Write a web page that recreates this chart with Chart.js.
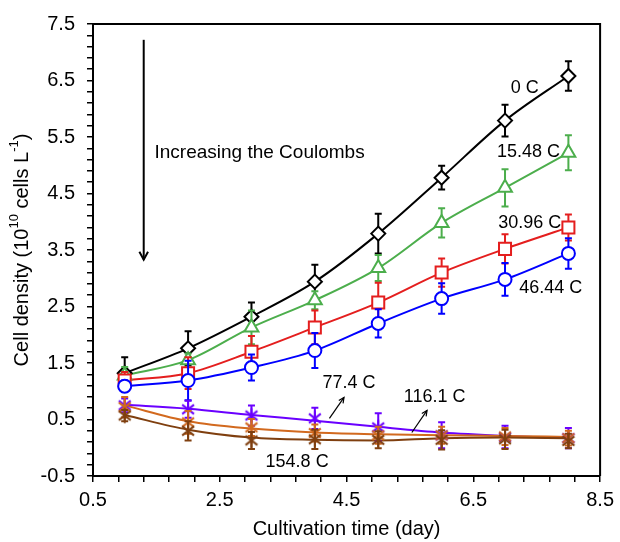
<!DOCTYPE html>
<html>
<head>
<meta charset="utf-8">
<script src="https://cdn.jsdelivr.net/npm/chart.js@4.4.1/dist/chart.umd.min.js"></script>
<style>
  html, body { margin: 0; padding: 0; background: #fff; }
  #wrap { width: 620px; height: 542px; }
</style>
</head>
<body>
<div id="wrap"><canvas id="cellChart" width="620" height="542"></canvas></div>
<script>
// Cultivation days (x) and cell density readings (10^10 cells/L) for each charge level
const days = [1, 2, 3, 4, 5, 6, 7, 8];

const mean0   = [1.32, 1.76, 2.32, 2.94, 3.79, 4.78, 5.79, 6.58];
const err0    = [0.28, 0.30, 0.25, 0.30, 0.35, 0.21, 0.28, 0.26];
const mean15  = [1.28, 1.55, 2.13, 2.61, 3.18, 3.98, 4.60, 5.22];
const err15   = [0.15, 0.12, 0.30, 0.16, 0.23, 0.26, 0.33, 0.31];
const mean31  = [1.19, 1.32, 1.70, 2.13, 2.57, 3.10, 3.52, 3.90];
const err31   = [0.15, 0.28, 0.28, 0.30, 0.35, 0.25, 0.26, 0.23];
const mean46  = [1.09, 1.19, 1.42, 1.72, 2.20, 2.64, 2.98, 3.44];
const err46   = [0.10, 0.35, 0.23, 0.31, 0.25, 0.27, 0.29, 0.27];
const mean77  = [0.75, 0.68, 0.57, 0.52, 0.36, 0.22, 0.19, 0.17];
const err77   = [0.12, 0.15, 0.18, 0.19, 0.25, 0.23, 0.20, 0.18];
const mean116 = [0.72, 0.45, 0.36, 0.26, 0.22, 0.22, 0.20, 0.17];
const err116  = [0.18, 0.20, 0.15, 0.15, 0.15, 0.15, 0.15, 0.13];
const mean155 = [0.57, 0.30, 0.13, 0.15, 0.14, 0.14, 0.15, 0.12];
const err155  = [0.10, 0.17, 0.15, 0.17, 0.15, 0.17, 0.17, 0.13];

// trend lines of the three high-charge series (they don't pass through the markers)
const fit77  = [0.76, 0.69, 0.58, 0.48, 0.37, 0.27, 0.21, 0.17];
const fit116 = [0.75, 0.47, 0.34, 0.27, 0.24, 0.22, 0.21, 0.19];
const fit155 = [0.58, 0.32, 0.18, 0.14, 0.13, 0.17, 0.18, 0.17];

const labels = ['0 C', '15.48 C', '30.96 C', '46.44 C', '77.4 C', '116.1 C', '154.8 C'];
const xTickLabels = [0.5, 2.5, 4.5, 6.5, 8.5];
const yTickLabels = [-0.5, 0.5, 1.5, 2.5, 3.5, 4.5, 5.5, 6.5, 7.5];

const FONT = '"Liberation Sans", Arial, sans-serif';

// 6-armed asterisk marker drawn once per colour
function asterisk(color) {
  const c = document.createElement('canvas');
  c.width = c.height = 18;
  const g = c.getContext('2d');
  g.strokeStyle = color;
  g.lineWidth = 2;
  g.beginPath();
  [90, 38, -38].forEach(a => {
    const r = 7.5, t = a * Math.PI / 180;
    g.moveTo(9 - r * Math.cos(t), 9 + r * Math.sin(t));
    g.lineTo(9 + r * Math.cos(t), 9 - r * Math.sin(t));
  });
  g.stroke();
  return c;
}

const series = [
  { mean: mean0,   err: err0,   fit: mean0,   color: '#000000', style: 'rectRot',  radius: 7 },
  { mean: mean15,  err: err15,  fit: mean15,  color: '#4CAE4C', style: 'triangle', radius: 8 },
  { mean: mean31,  err: err31,  fit: mean31,  color: '#E41E1E', style: 'rect',     radius: 8.5 },
  { mean: mean46,  err: err46,  fit: mean46,  color: '#0000FF', style: 'circle',   radius: 6.5 },
  { mean: mean77,  err: err77,  fit: fit77,   color: '#6A00FF', style: 'star',     radius: 8 },
  { mean: mean116, err: err116, fit: fit116,  color: '#D2691E', style: 'star',     radius: 8 },
  { mean: mean155, err: err155, fit: fit155,  color: '#7F3F0F', style: 'star',     radius: 8 },
];

const toPts = arr => days.map((d, i) => ({ x: d, y: arr[i] }));

const datasets = [];
series.forEach((s, k) => {
  datasets.push({
    label: labels[k] + ' fit',
    data: toPts(s.fit),
    showLine: true,
    borderColor: s.color,
    borderWidth: 2,
    pointRadius: 0,
    cubicInterpolationMode: 'monotone',
    order: 20 - k,
  });
  datasets.push({
    label: labels[k],
    data: toPts(s.mean),
    showLine: false,
    errors: s.err,
    borderColor: s.color,
    pointStyle: s.style === 'star' ? asterisk(s.color) : s.style,
    pointRadius: s.radius,
    pointBorderWidth: 2,
    pointBackgroundColor: '#fff',
    order: 10 - k,
  });
});

// text labels and arrows, anchored in data units
const curveNotes = [
  { text: '0 C',     x: 7.31, y: 6.37 },
  { text: '15.48 C', x: 7.37, y: 5.24 },
  { text: '30.96 C', x: 7.39, y: 3.98 },
  { text: '46.44 C', x: 7.72, y: 2.82 },
  { text: '77.4 C',  x: 4.54, y: 1.14 },
  { text: '116.1 C', x: 5.89, y: 0.89 },
  { text: '154.8 C', x: 3.72, y: -0.26 },
];
const smallArrows = [
  { x0: 4.23, y0: 0.52, x1: 4.46, y1: 0.89 },
  { x0: 5.53, y0: 0.27, x1: 5.77, y1: 0.66 },
];

function arrowHead(ctx, x0, y0, x1, y1, len, spread) {
  const a = Math.atan2(y1 - y0, x1 - x0);
  ctx.beginPath();
  ctx.moveTo(x1 - len * Math.cos(a - spread), y1 - len * Math.sin(a - spread));
  ctx.lineTo(x1, y1);
  ctx.lineTo(x1 - len * Math.cos(a + spread), y1 - len * Math.sin(a + spread));
  ctx.stroke();
}

const errorBars = {
  id: 'errorBars',
  beforeDatasetDraw(chart, args) {
    const ds = chart.data.datasets[args.index];
    if (!ds.errors) return;
    const { ctx } = chart;
    const y = chart.scales.y;
    ctx.save();
    ctx.strokeStyle = ds.borderColor;
    ctx.lineWidth = 2;
    args.meta.data.forEach((pt, i) => {
      const v = ds.data[i].y;
      const top = y.getPixelForValue(v + ds.errors[i]);
      const bot = y.getPixelForValue(v - ds.errors[i]);
      ctx.beginPath();
      ctx.moveTo(pt.x, top); ctx.lineTo(pt.x, bot);
      ctx.moveTo(pt.x - 3.5, top); ctx.lineTo(pt.x + 3.5, top);
      ctx.moveTo(pt.x - 3.5, bot); ctx.lineTo(pt.x + 3.5, bot);
      ctx.stroke();
    });
    ctx.restore();
  },
};

const decorations = {
  id: 'decorations',
  afterDraw(chart) {
    const { ctx, chartArea: a } = chart;
    const xs = chart.scales.x, ys = chart.scales.y;
    const px = v => xs.getPixelForValue(v), py = v => ys.getPixelForValue(v);
    ctx.save();

    // top and right frame
    ctx.strokeStyle = '#000';
    ctx.lineWidth = 2;
    ctx.beginPath();
    ctx.moveTo(a.left, a.top); ctx.lineTo(a.right, a.top); ctx.lineTo(a.right, a.bottom);
    ctx.stroke();

    // curve labels
    ctx.fillStyle = '#000';
    ctx.font = '18px ' + FONT;
    ctx.textAlign = 'center';
    ctx.textBaseline = 'middle';
    curveNotes.forEach(n => ctx.fillText(n.text, px(n.x), py(n.y)));

    ctx.lineWidth = 1.2;
    smallArrows.forEach(r => {
      ctx.beginPath();
      ctx.moveTo(px(r.x0), py(r.y0)); ctx.lineTo(px(r.x1), py(r.y1));
      ctx.stroke();
      arrowHead(ctx, px(r.x0), py(r.y0), px(r.x1), py(r.y1), 6, 0.45);
    });

    // "Increasing the Coulombs" arrow
    ctx.lineWidth = 2;
    const ax = px(1.3);
    ctx.beginPath();
    ctx.moveTo(ax, py(7.22)); ctx.lineTo(ax, py(3.33));
    ctx.stroke();
    arrowHead(ctx, ax, py(7.22), ax, py(3.33), 9, 0.5);
    ctx.font = '19px ' + FONT;
    ctx.textAlign = 'left';
    ctx.fillText('Increasing the Coulombs', px(1.47), py(5.22));

    // y axis title with superscripts
    const main = '20px ' + FONT, sup = '13px ' + FONT;
    const parts = [
      ['Cell density (10', main, 0], ['10', sup, -8], [' cells L', main, 0], ['-1', sup, -8], [')', main, 0],
    ];
    let total = 0;
    parts.forEach(p => { ctx.font = p[1]; total += ctx.measureText(p[0]).width; });
    ctx.translate(22, (a.top + a.bottom) / 2);
    ctx.rotate(-Math.PI / 2);
    ctx.textBaseline = 'middle';
    let cx = -total / 2;
    parts.forEach(p => {
      ctx.font = p[1];
      ctx.fillText(p[0], cx, p[2]);
      cx += ctx.measureText(p[0]).width;
    });
    ctx.restore();
  },
};

const isLabel = (list, v) => list.some(t => Math.abs(t - v) < 1e-6);

new Chart(document.getElementById('cellChart'), {
  type: 'scatter',
  data: { datasets },
  plugins: [errorBars, decorations],
  options: {
    responsive: false,
    animation: false,
    layout: { padding: { top: 23, right: 18, left: 0, bottom: 0 } },
    plugins: { legend: { display: false }, tooltip: { enabled: false } },
    scales: {
      x: {
        type: 'linear',
        min: 0.5,
        max: 8.5,
        afterFit: s => { s.height = 66; },
        border: { color: '#000', width: 2 },
        grid: { drawOnChartArea: false, drawTicks: true, tickLength: 6, color: '#000', lineWidth: 1.5 },
        ticks: {
          stepSize: 0.4,
          autoSkip: false,
          maxRotation: 0,
          padding: 6,
          color: '#000',
          font: { family: FONT, size: 20 },
          callback: v => isLabel(xTickLabels, v) ? v.toFixed(1) : '',
        },
        title: {
          display: true,
          text: 'Cultivation time (day)',
          color: '#000',
          font: { family: FONT, size: 20 },
          padding: { top: 0, bottom: 1 },
        },
      },
      y: {
        type: 'linear',
        min: -0.5,
        max: 7.5,
        afterFit: s => { s.width = 93; },
        border: { color: '#000', width: 2 },
        grid: { drawOnChartArea: false, drawTicks: true, tickLength: 6, color: '#000', lineWidth: 1.5 },
        ticks: {
          stepSize: 0.2,
          autoSkip: false,
          padding: 12,
          color: '#000',
          font: { family: FONT, size: 20 },
          callback: v => isLabel(yTickLabels, v) ? v.toFixed(1) : '',
        },
      },
    },
  },
});
</script>
</body>
</html>
